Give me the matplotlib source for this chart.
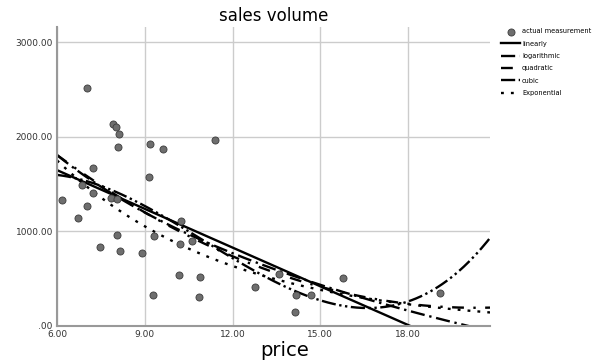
import numpy as np
import matplotlib.pyplot as plt

# price / sales volume
price = [7.03, 7.90, 8.03, 8.11, 8.09, 9.18, 9.61, 11.40, 7.22, 9.15,
         6.87, 7.24, 6.17, 7.02, 6.71, 7.86, 8.06, 8.06, 7.47, 8.17,
         8.89, 9.31, 10.24, 10.20, 10.60, 10.16, 10.88, 9.28, 10.84, 12.76,
         13.60, 14.16, 14.13, 14.67, 15.77, 19.08]
sales = [2514, 2136, 2108, 2031, 1896, 1924, 1866, 1964, 1672, 1570,
         1488, 1402, 1332, 1273, 1140, 1348, 1340, 958, 832, 796,
         771, 956, 1112, 862, 901, 535, 517, 324, 303, 415,
         545, 327, 151, 324, 507, 352]

xticks = [6, 9, 12, 15, 18]
yticks = [0, 1000, 2000, 3000]

x = np.array(price)
y = np.array(sales)
xs = np.linspace(6, 20.8, 300)

# curve estimation like SPSS
lin = np.polyval(np.polyfit(x, y, 1), xs)
lg = np.polyval(np.polyfit(np.log(x), y, 1), np.log(xs))
quad = np.polyval(np.polyfit(x, y, 2), xs)
cub = np.polyval(np.polyfit(x, y, 3), xs)
b = np.polyfit(x, np.log(y), 1)
expo = np.exp(np.polyval(b, xs))

plt.rcParams['font.family'] = ['Liberation Sans Narrow', 'DejaVu Sans']
fig = plt.figure(figsize=(5.92, 3.64), dpi=100)
ax = fig.add_axes([0.0963, 0.1044, 0.7314, 0.8214])

ax.grid(True, color='#cccccc', linewidth=1)
ax.set_axisbelow(True)
ax.scatter(x, y, s=26, c='#6e6e6e', edgecolors='#3c3c3c', linewidths=0.6,
           zorder=3, label='actual measurement')
ax.plot(xs, lin, color='black', lw=1.7, ls='-', label='linearly')
ax.plot(xs, lg, color='black', lw=1.7, ls=(0, (6, 2, 1, 2)), label='logarithmic')
ax.plot(xs, quad, color='black', lw=1.7, ls=(0, (5, 4, 1, 4)), label='quadratic')
ax.plot(xs, cub, color='black', lw=1.7, ls=(0, (6, 1.5, 1, 1.5, 1, 1.5)), label='cubic')
ax.plot(xs, expo, color='black', lw=1.7, ls=(0, (1.2, 3)), label='Exponential')

ax.set_xlim(6, 20.8)
ax.set_ylim(0, 3160)
ax.set_xticks(xticks)
ax.set_xticklabels(['%.2f' % t for t in xticks])
ax.set_yticks(yticks)
ax.set_yticklabels(['.00'] + ['%.2f' % t for t in yticks[1:]])
ax.tick_params(length=0, labelsize=6.5, colors='#333333', pad=3)
for s in ['top', 'right']:
    ax.spines[s].set_visible(False)
for s in ['left', 'bottom']:
    ax.spines[s].set_color('#999999')
    ax.spines[s].set_linewidth(1.5)

ax.set_title('sales volume', fontsize=12, pad=4)
fig.text(285 / 592, 8 / 364, 'price', fontsize=14, ha='center', va='baseline')

ax.legend(loc='upper left', bbox_to_anchor=(1.023, 1.0), frameon=False,
          fontsize=4.8, handlelength=2.8, handletextpad=0.3, labelspacing=0.95,
          borderaxespad=0, borderpad=0.2)

fig.savefig('out.png', dpi=100)
